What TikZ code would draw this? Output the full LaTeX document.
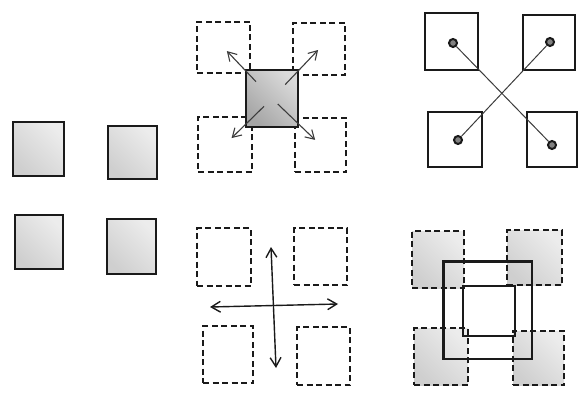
\documentclass[tikz,border=0pt]{standalone}
\usepackage{tikz}
\usetikzlibrary{arrows.meta,calc}
\definecolor{ink}{HTML}{1A1A1A}
\definecolor{shadelt}{HTML}{ECECEC}
\definecolor{shadedk}{HTML}{CFCFCF}
\definecolor{midlt}{HTML}{DADADA}
\definecolor{middk}{HTML}{A6A6A6}
\tikzset{
  sz/.style 2 args={minimum width=#1pt,minimum height=#2pt},
  solidsq/.style={draw=ink,line width=2.4pt,inner sep=0pt},
  greysq/.style={solidsq,left color=shadedk,right color=shadelt,shading angle=135},
  midsq/.style={solidsq,left color=middk,right color=midlt,shading angle=135},
  dashsq/.style={draw=ink,line width=2pt,dash pattern=on 6pt off 3.5pt,
                 inner sep=0pt},
  dashgrey/.style={dashsq,left color=shadedk,right color=shadelt,shading angle=135},
  arr/.style={-{Straight Barb[length=3mm,width=3.6mm]},line width=1.1pt,
              draw=ink!85},
  dblarr/.style={{Straight Barb[length=3.2mm,width=3.8mm]}-{Straight Barb[length=3.2mm,width=3.8mm]},
                 line width=1.4pt,draw=ink},
  dotnode/.style={circle,draw=ink,fill=ink!55,line width=2pt,
                  minimum size=8pt,inner sep=0pt},
  link/.style={line width=1pt,draw=ink!85},
  frame/.style={draw=ink,line width=1.8pt,inner sep=0pt}
}
\begin{document}
\begin{tikzpicture}[x=1pt,y=-1pt]
  \path[use as bounding box] (0,0) rectangle (580,398);

  % left: four shaded squares
  \node[greysq,sz={51}{54}] (la) at (38.5,149) {};
  \node[greysq,sz={49}{53}] (lb) at (132.5,152.5) {};
  \node[greysq,sz={48}{54}] (lc) at (39,242) {};
  \node[greysq,sz={49}{55}] (ld) at (131.5,246.5) {};

  % top middle: spreading from the centre
  \node[dashsq,sz={53}{51}] (tl) at (223.5,47.5) {};
  \node[dashsq,sz={52}{52}] (tr) at (319,49) {};
  \node[dashsq,sz={54}{55}] (bl) at (225,144.5) {};
  \node[dashsq,sz={51}{54}] (br) at (320.5,145) {};
  \node[midsq,sz={52}{57}] (mid) at (272,98.5) {};
  \draw[arr] ($(mid)!0.33!(tl)$) -- ($(mid)!0.93!(tl)$);
  \draw[arr] ($(mid)!0.28!(tr)$) -- ($(mid)!0.98!(tr)$);
  \draw[arr] ($(mid)!0.17!(bl)$) -- ($(mid)!0.86!(bl)$);
  \draw[arr] ($(mid)!0.12!(br)$) -- ($(mid)!0.89!(br)$);

  % top right: crossing links
  \node[solidsq,sz={53}{57}] (xa) at (451.5,41.5) {};
  \node[solidsq,sz={52}{55}] (xb) at (549,42.5) {};
  \node[solidsq,sz={54}{55}] (xc) at (455,139.5) {};
  \node[solidsq,sz={50}{55}] (xd) at (552,139.5) {};
  \node[dotnode] (da) at (453,43) {};
  \node[dotnode] (db) at (550,42) {};
  \node[dotnode] (dc) at (458,140) {};
  \node[dotnode] (dd) at (552,145) {};
  \draw[link] (da) -- (dd);
  \draw[link] (db) -- (dc);

  % bottom middle: two-way spread
  \node[dashsq,sz={54}{58}] (ga) at (224,257) {};
  \node[dashsq,sz={53}{57}] (gb) at (320.5,256.5) {};
  \node[dashsq,sz={50}{57}] (gc) at (228,354.5) {};
  \node[dashsq,sz={53}{58}] (gd) at (323.5,356) {};
  \coordinate (vtop) at (271,247);
  \coordinate (vbot) at (276,368);
  \coordinate (hleft) at (210,307);
  \coordinate (hright) at (338,304);
  \draw[dblarr] (vtop) -- (vbot);
  \draw[dblarr] (hleft) -- (hright);

  % bottom right: frame over shaded squares
  \node[dashgrey,sz={52}{57}] (fa) at (438,259.5) {};
  \node[dashgrey,sz={55}{55}] (fb) at (534.5,257.5) {};
  \node[dashgrey,sz={54}{57}] (fc) at (441,356.5) {};
  \node[dashgrey,sz={51}{54}] (fd) at (538.5,358) {};
  \node[frame,sz={89}{98}] (outa) at (487.5,310) {};
  \node[frame,line width=1pt,sz={87}{96}] (outb) at (488,310.5) {};
  \node[frame,sz={52}{50}] (inr) at (489,311) {};
\end{tikzpicture}
\end{document}
